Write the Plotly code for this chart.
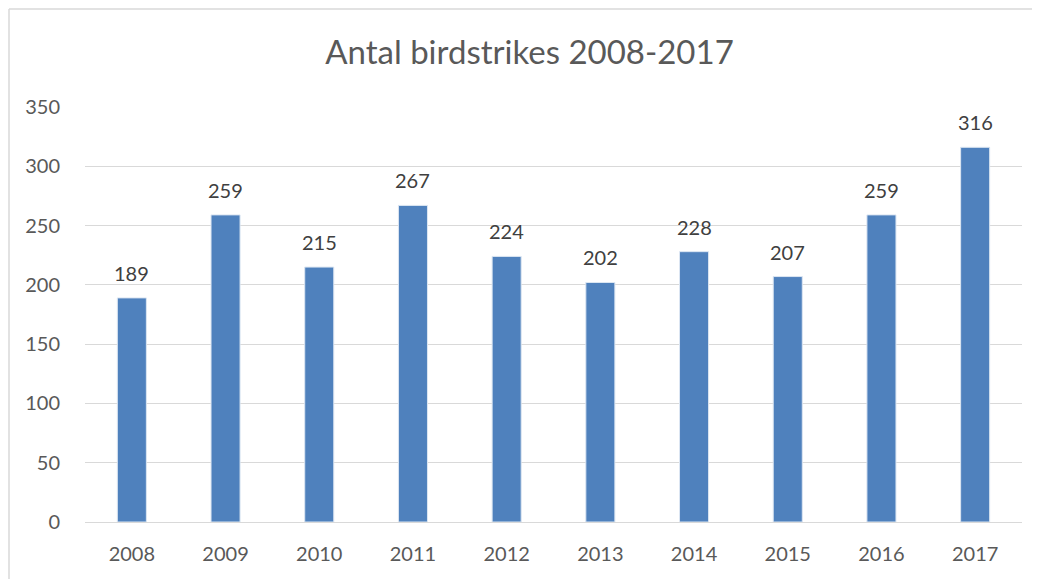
import plotly.graph_objects as go

years = ["2008", "2009", "2010", "2011", "2012", "2013", "2014", "2015", "2016", "2017"]
counts = [189, 259, 215, 267, 224, 202, 228, 207, 259, 316]
title_text = "Antal birdstrikes 2008-2017"

FONT = "Lato, 'Open Sans', sans-serif"
TXT = "#595959"

OFF = 8  # page body margin
W, H = 1040 - OFF, 579 - OFF
L, T = 85 - OFF, 107 - OFF
R = W - (1022 - OFF)
B = H - (522 - OFF)
pw = W - L - R
ph = H - T - B

fig = go.Figure(go.Bar(
    x=years, y=counts,
    width=0.31,
    marker=dict(color="#4F81BD", line=dict(color="#DCE6F2", width=1)),
    cliponaxis=False,
))

# value labels (category index positions on the category axis)
for i, v in enumerate(counts):
    fig.add_annotation(x=i, y=v, text=str(v), showarrow=False,
                       xref="x", yref="y",
                       yanchor="bottom", yshift=11,
                       font=dict(family=FONT, size=20, color="#404040"))

fig.update_layout(
    width=W, height=H,
    margin=dict(l=L, r=R, t=T, b=B),
    paper_bgcolor="white", plot_bgcolor="white",
    title=dict(text=title_text, x=(529.5 - OFF) / W, xref="container", xanchor="center",
               y=1 - (52 - OFF) / H, yref="container", yanchor="middle",
               font=dict(family=FONT, size=33, color=TXT)),
    showlegend=False,
    xaxis=dict(type="category", range=[-0.5, len(years) - 0.5],
               showgrid=False, showline=False, zeroline=False,
               tickfont=dict(family=FONT, size=20, color=TXT),
               ticks="outside", ticklen=14, tickcolor="rgba(0,0,0,0)"),
    yaxis=dict(range=[0, 350], dtick=50, showgrid=True, gridcolor="#D9D9D9", gridwidth=1.3,
               zeroline=True, zerolinecolor="#D9D9D9", zerolinewidth=1.3,
               showline=False,
               tickfont=dict(family=FONT, size=20, color=TXT),
               ticks="outside", ticklen=20, tickcolor="rgba(0,0,0,0)"),
)

# chart-area border (only left and top edges fall inside the picture)
bx0 = (9 - OFF - L) / pw
by1 = (T + ph - (9 - OFF)) / ph
fig.add_shape(type="line", xref="paper", yref="paper",
              x0=bx0, x1=bx0, y0=-(B + 20) / ph, y1=by1,
              line=dict(color="#D9D9D9", width=1.5), layer="below")
fig.add_shape(type="line", xref="paper", yref="paper",
              x0=bx0, x1=(W + 20 - L) / pw, y0=by1, y1=by1,
              line=dict(color="#D9D9D9", width=1.5), layer="below")

fig.write_html(
    "out.html",
    post_script="document.documentElement.style.overflow='hidden';document.body.style.overflow='hidden';",
)
